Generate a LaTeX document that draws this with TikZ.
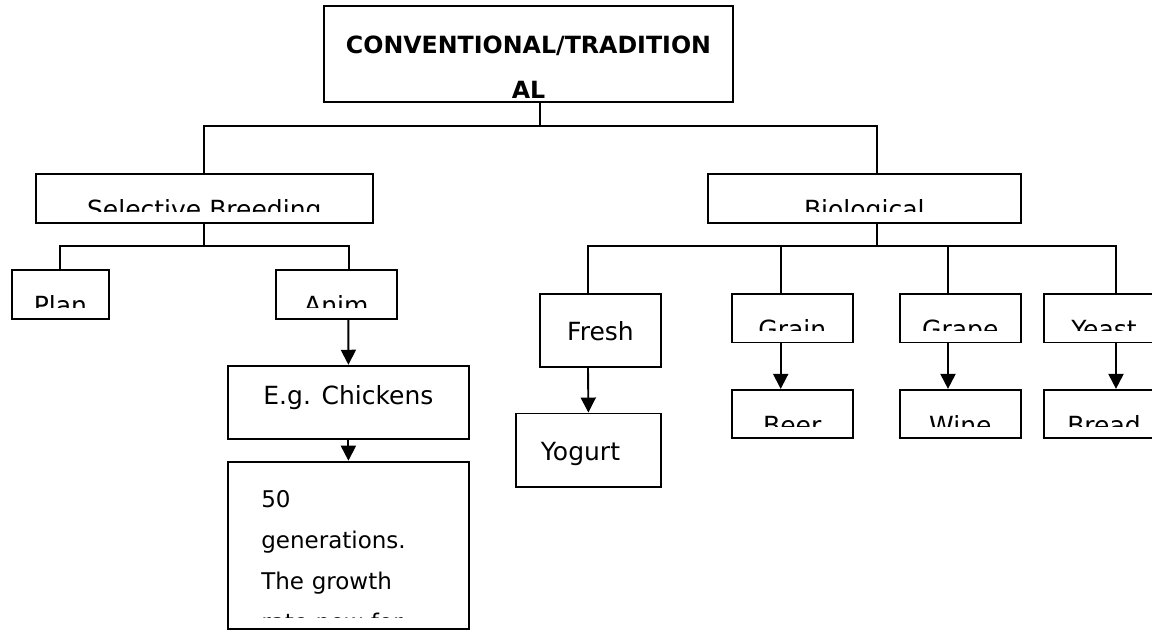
\documentclass[tikz,border=0pt]{standalone}
\usepackage{fontspec}
\setmainfont{DejaVu Sans}
\usetikzlibrary{arrows.meta}
\tikzset{
    box/.style = {draw, line width=1.9pt, inner sep=0pt},
    small/.style = {box, minimum width=120.5pt, minimum height=48.5pt},
    word/.style = {font=\fontsize{25}{41}\selectfont, inner sep=0pt, anchor=base},
    link/.style = {line width=1.9pt},
    arr/.style = {line width=1.9pt, -{Triangle[length=15pt, width=15pt]}},
    cut/.style 2 args = {path picture = {
        \clip ([yshift=11.5pt]path picture bounding box.south west)
            rectangle (path picture bounding box.north east);
        \node[word] (#1) at ([yshift=4pt]path picture bounding box.south) {#2};
    }},
}
\begin{document}
\begin{tikzpicture}[x=1pt, y=-1pt]
    \useasboundingbox (0,0) rectangle (1152,630);
    \clip (0,0) rectangle (1152,630);
    % boxes
    \node[box, minimum width=409pt, minimum height=96pt] (conv) at (528.5,54) {};
    \node[word, font=\bfseries\fontsize{23.7}{45}\selectfont, text width=409pt, align=center]
        (convT) at (528.5,53.3) {CONVENTIONAL/TRADITION\\AL};
    \node[box, minimum width=337.4pt, minimum height=48.7pt, cut={selT}{Selective Breeding}] (sel) at (204.3,198.3) {};
    \node[box, minimum width=312.6pt, minimum height=48.7pt, cut={biolT}{Biological}] (biol) at (864.3,198.3) {};
    \node[box, minimum width=96.4pt, minimum height=48.7pt, cut={planT}{Plan}] (plan) at (60.4,294.3) {};
    \node[small, cut={animT}{Anim}] (anim) at (336.3,294.3) {};
    \node[box, minimum width=240.8pt, minimum height=73pt] (chick) at (348.4,402.2) {};
    \node[word] (chickT) at (348.4,404) {E.g. Chickens};
    \node[box, minimum width=240.8pt, minimum height=167.3pt, path picture = {
        \clip ([yshift=11pt]path picture bounding box.south west)
            rectangle (path picture bounding box.north east);
        \node[word, anchor=base west, text width=220pt, align=left, font=\fontsize{23}{41}\selectfont]
            (genT) at ([xshift=22pt, yshift=-45.8pt]path picture bounding box.north west)
            {50\\generations.\\The growth\\rate now for};
    }] (gen) at (348.4,545.3) {};
    \node[box, minimum width=121pt, minimum height=72.7pt] (fresh) at (600.5,330.3) {};
    \node[word] (freshT) at (600.5,340) {Fresh};
    \node[box, minimum width=145.2pt, minimum height=73.2pt] (yog) at (588.4,450.1) {};
    \node[word] (yogT) at (580.5,460) {Yogurt};
    \node[small, cut={grainT}{Grain}] (grain) at (792.3,318.2) {};
    \node[small, cut={beerT}{Beer}] (beer) at (792.3,414.1) {};
    \node[small, cut={grapeT}{Grape}] (grape) at (960.3,318.2) {};
    \node[small, cut={wineT}{Wine}] (wine) at (960.3,414.1) {};
    \node[small, cut={yeastT}{Yeast}] (yeast) at (1104,318.2) {};
    \node[small, cut={breadT}{Bread}] (bread) at (1104,414.1) {};
    % tree lines
    \coordinate (j1) at (540,126);
    \coordinate (j2) at (204.3,246);
    \coordinate (j3) at (876.7,246);
    \draw[link] (conv.south -| j1) -- (j1);
    \draw[link] (sel.north) |- (j1) -| ([xshift=12.4pt]biol.north);
    \draw[link] (sel.south) -- (j2);
    \draw[link] (plan.north) |- (j2) -| ([xshift=12.3pt]anim.north);
    \draw[link] ([xshift=12.4pt]biol.south) -- (j3);
    \draw[link] ([xshift=-12.5pt]fresh.north) |- (j3) -| ([xshift=12pt]yeast.north);
    \draw[link] ([xshift=-11.6pt]grain.north) |- (j3);
    \draw[link] ([xshift=-12.3pt]grape.north) |- (j3);
    % arrows
    \draw[arr] ([xshift=12pt]anim.south) -- (chick.north);
    \draw[arr] (chick.south) -- (gen.north);
    \draw[arr] ([xshift=-12.5pt]fresh.south) -- (yog.north);
    \draw[arr] ([xshift=-11.6pt]grain.south) -- ([xshift=-11.6pt]beer.north);
    \draw[arr] ([xshift=-12.3pt]grape.south) -- ([xshift=-12.3pt]wine.north);
    \draw[arr] ([xshift=12pt]yeast.south) -- ([xshift=12pt]bread.north);
\end{tikzpicture}
\end{document}
